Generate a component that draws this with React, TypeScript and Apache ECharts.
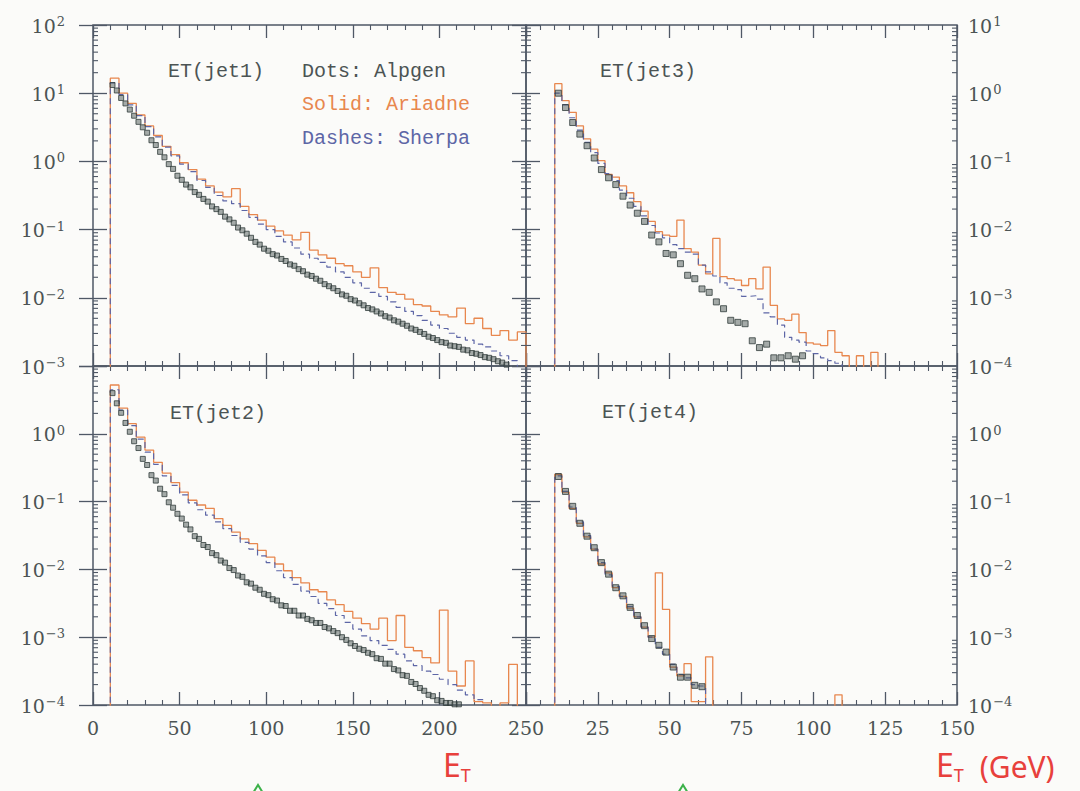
import React, { useEffect, useRef } from "react";
import * as echarts from "echarts";

// ---- data (log10 of the normalised distributions) ----
// bins start at 10 GeV; left panels: lines 5 GeV, dots 2.5 GeV; right panels 2.5 GeV
const BIN_START = 10;
const LEFT_LINE_BIN = 5;
const LEFT_DOT_BIN = 2.5;
const RIGHT_BIN = 2.5;
const EMPTY = -5; // empty bin (below the axis)

const jet1Ariadne = [1.22, 1.0, 0.85, 0.68, 0.52, 0.38, 0.22, 0.1, -0.02, -0.12, -0.26, -0.36, -0.45, -0.52, -0.4, -0.66, -0.78, -0.86, -0.95, -1.02, -1.08, -1.15, -1.04, -1.3, -1.37, -1.42, -1.5, -1.53, -1.62, -1.7, -1.56, -1.85, -1.92, -1.95, -2.02, -2.1, -2.12, -2.2, -2.25, -2.28, -2.15, -2.38, -2.3, -2.45, -2.55, -2.48, -2.62, -2.5];
const jet1Sherpa = [1.15, 0.98, 0.83, 0.67, 0.51, 0.36, 0.21, 0.08, -0.04, -0.15, -0.28, -0.38, -0.5, -0.58, -0.62, -0.72, -0.82, -0.92, -1.0, -1.1, -1.18, -1.27, -1.36, -1.42, -1.48, -1.55, -1.62, -1.7, -1.78, -1.86, -1.92, -1.98, -2.06, -2.14, -2.2, -2.26, -2.33, -2.4, -2.45, -2.52, -2.58, -2.62, -2.68, -2.72, -2.78, -2.85, -2.92, -3.05];
const jet1Alpgen = [1.12, 1.04, 0.93, 0.85, 0.76, 0.67, 0.58, 0.5, 0.42, 0.31, 0.24, 0.14, 0.06, -0.04, -0.11, -0.21,
  -0.27, -0.34, -0.38, -0.45, -0.49, -0.55, -0.59, -0.66, -0.7, -0.74, -0.81, -0.85, -0.9, -0.97, -1.01, -1.06, -1.12, -1.18, -1.22, -1.28,
  -1.31, -1.36, -1.38, -1.43, -1.46, -1.51, -1.53, -1.58, -1.61, -1.66, -1.68, -1.72, -1.75, -1.8, -1.83, -1.86, -1.9, -1.95, -1.97, -2.02,
  -2.04, -2.08, -2.11, -2.15, -2.17, -2.2, -2.23, -2.27, -2.29, -2.33, -2.35, -2.38, -2.41, -2.45, -2.47, -2.5, -2.53, -2.57, -2.59, -2.62,
  -2.65, -2.66, -2.7, -2.71, -2.72, -2.76, -2.77, -2.81, -2.82, -2.84, -2.87, -2.88, -2.9, -2.93, -2.95, -2.98];

const jet2Ariadne = [0.72, 0.38, 0.15, -0.05, -0.24, -0.42, -0.58, -0.72, -0.86, -0.98, -1.05, -1.1, -1.25, -1.35, -1.45, -1.55, -1.62, -1.72, -1.82, -1.92, -2.02, -2.12, -2.2, -2.3, -2.33, -2.45, -2.52, -2.62, -2.72, -2.8, -2.88, -2.72, -3.05, -2.68, -3.15, -3.2, -3.3, -3.38, -2.6, -3.5, -3.72, -3.35, -3.95, -3.97, EMPTY, -3.97, -3.4, EMPTY];
const jet2Sherpa = [0.65, 0.35, 0.12, -0.08, -0.27, -0.45, -0.62, -0.76, -0.9, -1.02, -1.12, -1.2, -1.3, -1.4, -1.5, -1.6, -1.7, -1.8, -1.9, -2.02, -2.12, -2.22, -2.32, -2.4, -2.5, -2.58, -2.68, -2.78, -2.88, -2.98, -3.05, -3.12, -3.18, -3.25, -3.35, -3.42, -3.5, -3.55, -3.62, -3.7, -3.78, -3.85, -3.92, EMPTY, EMPTY, EMPTY, EMPTY, EMPTY];
const jet2Alpgen = [0.6, 0.45, 0.31, 0.16, 0.03, -0.11, -0.21, -0.37, -0.46, -0.61, -0.69, -0.81, -0.89, -1.01, -1.09, -1.18,
  -1.25, -1.34, -1.41, -1.51, -1.55, -1.64, -1.67, -1.76, -1.79, -1.87, -1.9, -1.98, -2.01, -2.09, -2.11, -2.19, -2.21, -2.27, -2.3, -2.36,
  -2.38, -2.44, -2.46, -2.53, -2.54, -2.61, -2.61, -2.68, -2.68, -2.73, -2.75, -2.79, -2.79, -2.85, -2.87, -2.91, -2.94, -3.0, -3.04, -3.09,
  -3.13, -3.17, -3.19, -3.23, -3.25, -3.31, -3.32, -3.39, -3.39, -3.47, -3.49, -3.56, -3.57, -3.66, -3.69, -3.75, -3.79, -3.85, -3.87, -3.93,
  -3.94, -3.97, -3.97, -3.99, -3.99];

const jet3Ariadne = [0.14, -0.11, -0.28, -0.48, -0.67, -0.82, -0.99, -1.19, -1.23, -1.36, -1.46, -1.59, -1.73, -1.88, -2.03, -2.08, -2.1, -1.86, -2.28, -2.33, -2.52, -2.65, -2.13, -2.69, -2.72, -2.74, -2.82, -2.72, -2.87, -2.55, -3.11, -3.31, -3.33, -3.24, -3.51, -3.66, -3.68, -3.7, -3.48, -3.8, -3.85, EMPTY, -3.85, EMPTY, -3.8, EMPTY];
const jet3Sherpa = [0.0, -0.17, -0.36, -0.54, -0.72, -0.87, -1.03, -1.18, -1.28, -1.42, -1.54, -1.66, -1.8, -1.94, -2.05, -2.12, -2.22, -2.28, -2.33, -2.36, -2.52, -2.62, -2.68, -2.78, -2.86, -2.88, -2.98, -2.97, -3.02, -3.22, -3.28, -3.4, -3.58, -3.62, -3.65, -3.78, -3.82, -3.88, -3.92, -3.96, EMPTY];
const jet3Alpgen = [0.0, -0.21, -0.43, -0.6, -0.77, -0.95, -1.12, -1.24, -1.34, -1.51, -1.64, -1.76, -1.88, -2.08, -2.18, -2.35, -2.37, -2.5, -2.67, -2.72, -2.87, -2.92, -3.06, -3.16, -3.33, -3.36, -3.38, -3.63, -3.73, -3.68, -3.88, -3.88, -3.85, -3.9, -3.85];

const jet4Ariadne = [-0.6, -0.86, -1.1, -1.32, -1.52, -1.7, -1.92, -2.05, -2.27, -2.4, -2.57, -2.7, -2.85, -3.0, -2.05, -2.59, -3.44, -3.57, -3.39, -3.95, -3.95, -3.29, EMPTY, EMPTY, EMPTY, EMPTY, EMPTY, EMPTY, EMPTY, EMPTY, EMPTY, EMPTY, EMPTY, EMPTY, EMPTY, EMPTY, EMPTY, EMPTY, EMPTY, -3.85, EMPTY];
const jet4Sherpa = [-0.62, -0.85, -1.08, -1.3, -1.5, -1.7, -1.9, -2.08, -2.25, -2.4, -2.55, -2.7, -2.85, -3.0, -3.15, -3.25, -3.4, -3.55, -3.6, -3.7, -3.72, EMPTY];
const jet4Alpgen = [-0.63, -0.85, -1.07, -1.32, -1.51, -1.68, -1.9, -2.07, -2.27, -2.39, -2.56, -2.68, -2.83, -3.02, -3.12, -3.22, -3.44, -3.59, -3.59, -3.71, -3.73];

const panelTitles = ["ET(jet1)", "ET(jet3)", "ET(jet2)", "ET(jet4)"];
const legendLines = ["Dots: Alpgen", "Solid: Ariadne", "Dashes: Sherpa"];

// ---- styles ----
const FRAME = "#4f5866";
const TXT = "#4c5454";
const ORANGE = "#e8874e";
const BLUE = "#5d66a6";
const DOT = "#323d3c";
const RED = "#e8403c";
const NUMFONT = "DejaVu Serif";
const TXTFONT = "Liberation Mono";

type Panel = {
  left: number; top: number; width: number; height: number;
  xMax: number; xStep: number; yMinExp: number; yMaxExp: number;
  labelSide: "left" | "right"; hideExp: number[]; showX: boolean; hideX0: boolean;
  lineBin: number; dotBin: number; dotSize: number;
  ariadne: number[]; sherpa: number[]; alpgen: number[];
};

const panels: Panel[] = [
  { left: 93, top: 25, width: 433, height: 341, xMax: 250, xStep: 50, yMinExp: -3, yMaxExp: 2, labelSide: "left", hideExp: [], showX: false, hideX0: false, lineBin: LEFT_LINE_BIN, dotBin: LEFT_DOT_BIN, dotSize: 5, ariadne: jet1Ariadne, sherpa: jet1Sherpa, alpgen: jet1Alpgen },
  { left: 526, top: 25, width: 431, height: 341, xMax: 150, xStep: 25, yMinExp: -4, yMaxExp: 1, labelSide: "right", hideExp: [], showX: false, hideX0: false, lineBin: RIGHT_BIN, dotBin: RIGHT_BIN, dotSize: 6, ariadne: jet3Ariadne, sherpa: jet3Sherpa, alpgen: jet3Alpgen },
  { left: 93, top: 366, width: 433, height: 339, xMax: 250, xStep: 50, yMinExp: -4, yMaxExp: 1, labelSide: "left", hideExp: [1], showX: true, hideX0: false, lineBin: LEFT_LINE_BIN, dotBin: LEFT_DOT_BIN, dotSize: 5, ariadne: jet2Ariadne, sherpa: jet2Sherpa, alpgen: jet2Alpgen },
  { left: 526, top: 366, width: 431, height: 339, xMax: 150, xStep: 25, yMinExp: -4, yMaxExp: 1, labelSide: "right", hideExp: [1], showX: true, hideX0: true, lineBin: RIGHT_BIN, dotBin: RIGHT_BIN, dotSize: 6, ariadne: jet4Ariadne, sherpa: jet4Sherpa, alpgen: jet4Alpgen },
];

function stepData(logs: number[], width: number, floorExp: number) {
  const low = Math.pow(10, floorExp - 1);
  const pts: number[][] = [[BIN_START, low]];
  logs.forEach((l, i) => pts.push([BIN_START + i * width, Math.pow(10, l)]));
  const end = BIN_START + logs.length * width;
  pts.push([end, Math.pow(10, logs[logs.length - 1])]);
  pts.push([end, low]);
  return pts;
}

function dotData(logs: number[], width: number, floorExp: number) {
  return logs
    .map((l, i) => [BIN_START + (i + 0.5) * width, Math.pow(10, l)])
    .filter((p) => p[1] >= Math.pow(10, floorExp - 0.05));
}

function expLabel(hide: number[]) {
  return (v: number) => {
    const e = Math.log10(v);
    const r = Math.round(e);
    if (Math.abs(e - r) > 0.01 || hide.indexOf(r) >= 0) return "";
    return "{b|10}{s|" + (r < 0 ? "\u2212" + -r : String(r)) + "}";
  };
}

function buildOption() {
  const grid: any[] = [];
  const xAxis: any[] = [];
  const yAxis: any[] = [];
  const series: any[] = [];
  const tickStyle = { color: FRAME, width: 1.3 };

  panels.forEach((p, i) => {
    grid.push({ left: p.left, top: p.top, width: p.width, height: p.height, show: true, borderColor: FRAME, borderWidth: 1.5, backgroundColor: "rgba(0,0,0,0)" });
    ["bottom", "top"].forEach((pos) => {
      xAxis.push({
        type: "value", gridIndex: i, position: pos, min: 0, max: p.xMax, interval: p.xStep,
        axisLine: { show: false }, splitLine: { show: false },
        axisTick: { show: true, inside: true, length: 13, lineStyle: tickStyle },
        minorTick: { show: true, splitNumber: 5, length: 5, lineStyle: { color: FRAME, width: 1.1 } },
        axisLabel: {
          show: pos === "bottom" && p.showX, margin: 13, color: TXT, fontSize: 19, fontFamily: NUMFONT,
          formatter: (v: number) => (p.hideX0 && v === 0 ? "" : String(v)),
        },
      });
    });
    ["left", "right"].forEach((pos) => {
      yAxis.push({
        type: "log", logBase: 10, gridIndex: i, position: pos,
        min: Math.pow(10, p.yMinExp), max: Math.pow(10, p.yMaxExp), splitNumber: 5,
        axisLine: { show: false }, splitLine: { show: false },
        axisTick: { show: true, inside: true, length: 14, lineStyle: tickStyle },
        minorTick: { show: false },
        axisLabel: {
          show: pos === p.labelSide, margin: pos === "left" ? 28 : 11,
          formatter: expLabel(p.hideExp),
          rich: {
            b: { fontSize: 19, fontFamily: NUMFONT, color: TXT, lineHeight: 20, verticalAlign: "bottom" },
            s: { fontSize: 13, fontFamily: NUMFONT, color: TXT, lineHeight: 14, verticalAlign: "top", padding: [0, 0, 10, 1] },
          },
        },
      });
    });

    const xi = 2 * i;
    const yi = 2 * i;
    series.push({
      type: "line", name: "Ariadne", xAxisIndex: xi, yAxisIndex: yi, step: "end", symbol: "none", clip: true, z: 3,
      lineStyle: { color: ORANGE, width: 1.3 }, data: stepData(p.ariadne, p.lineBin, p.yMinExp),
    });
    series.push({
      type: "line", name: "Sherpa", xAxisIndex: xi, yAxisIndex: yi, step: "end", symbol: "none", clip: true, z: 3,
      lineStyle: { color: BLUE, width: 1.2, type: [6, 4] }, data: stepData(p.sherpa, p.lineBin, p.yMinExp),
    });
    series.push({
      type: "scatter", name: "Alpgen", xAxisIndex: xi, yAxisIndex: yi, symbol: "rect", symbolSize: p.dotSize, clip: true, z: 4,
      itemStyle: { color: "rgba(70,82,80,0.6)", borderColor: DOT, borderWidth: 1 },
      data: dotData(p.alpgen, p.dotBin, p.yMinExp),
    });
    const minor: number[][] = [];
    for (let e = p.yMinExp; e < p.yMaxExp; e++) for (let m = 2; m <= 9; m++) minor.push([0, m * Math.pow(10, e)]);
    series.push({
      type: "custom", xAxisIndex: xi, yAxisIndex: yi, silent: true, z: 5, data: minor, encode: { x: 0, y: 1 },
      renderItem: (params: any, api: any) => {
        const cs = params.coordSys;
        const y = api.coord([0, api.value(1)])[1];
        const st = { stroke: FRAME, lineWidth: 1.1 };
        return {
          type: "group",
          children: [
            { type: "line", shape: { x1: cs.x, y1: y, x2: cs.x + 5, y2: y }, style: st },
            { type: "line", shape: { x1: cs.x + cs.width, y1: y, x2: cs.x + cs.width - 5, y2: y }, style: st },
          ],
        };
      },
    });
  });

  const titlePos = [[168, 71], [600, 71], [170, 413], [602, 412]];
  const graphic: any[] = panelTitles.map((t, i) => ({
    type: "text", x: titlePos[i][0], y: titlePos[i][1], silent: true,
    style: { text: t, fontSize: 20, fontFamily: TXTFONT, fill: TXT, verticalAlign: "middle" },
  }));
  const legendColors = [TXT, ORANGE, BLUE];
  const legendY = [71, 104, 138];
  legendLines.forEach((t, i) => {
    graphic.push({
      type: "text", x: 302, y: legendY[i], silent: true,
      style: { text: t, fontSize: 20, fontFamily: TXTFONT, fill: legendColors[i], verticalAlign: "middle" },
    });
  });
  const redRich = {
    e: { fontSize: 32, fontFamily: "Noto Sans", fill: RED, color: RED, verticalAlign: "top" },
    t: { fontSize: 18, fontFamily: "Noto Sans", fill: RED, color: RED, padding: [18, 0, 0, 0] },
    g: { fontSize: 30, fontFamily: "Noto Sans", fill: RED, color: RED, padding: [0, 0, 0, 16] },
  };
  graphic.push({ type: "text", x: 443, y: 748, silent: true, style: { text: "{e|E}{t|T}", rich: redRich, fill: RED } });
  graphic.push({ type: "text", x: 936, y: 748, silent: true, style: { text: "{e|E}{t|T}{g|(GeV)}", rich: redRich, fill: RED } });
  graphic.push({ type: "polyline", silent: true, shape: { points: [[253, 793], [258, 785], [263, 793]] }, style: { stroke: "#3cb24a", lineWidth: 2, fill: null } });
  graphic.push({ type: "polyline", silent: true, shape: { points: [[678, 793], [683, 785], [688, 793]] }, style: { stroke: "#3cb24a", lineWidth: 2, fill: null } });

  return { animation: false, backgroundColor: "#fbfbf9", grid, xAxis, yAxis, series, graphic };
}

export default function App() {
  const ref = useRef<HTMLDivElement>(null);
  useEffect(() => {
    if (!ref.current) return;
    const chart = echarts.init(ref.current, undefined, { renderer: "svg" });
    chart.setOption(buildOption() as any);
    return () => chart.dispose();
  }, []);
  return <div ref={ref} style={{ position: "absolute", left: 0, top: 0, width: 1080, height: 791 }} />;
}
